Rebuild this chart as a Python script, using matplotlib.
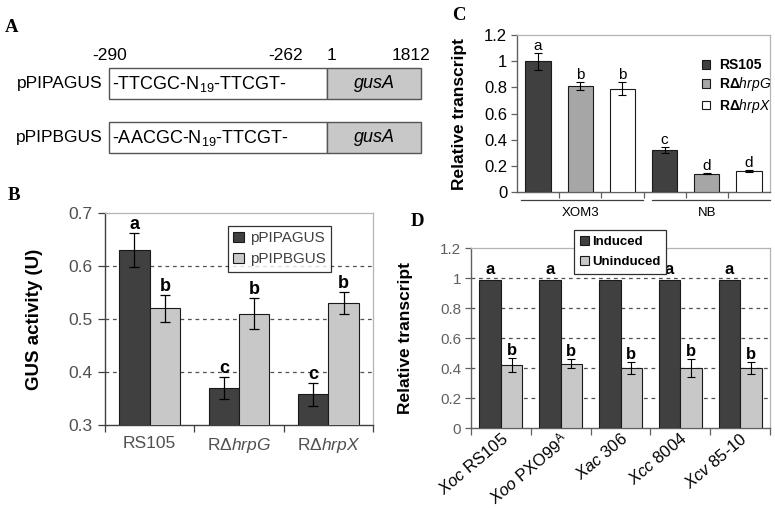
import matplotlib
matplotlib.use('Agg')
import matplotlib.pyplot as plt
import matplotlib.transforms as mtransforms
from matplotlib.patches import Rectangle
from matplotlib.lines import Line2D
import numpy as np

plt.rcParams['font.family'] = ['Liberation Sans', 'DejaVu Sans']
plt.rcParams['mathtext.fontset'] = 'custom'
plt.rcParams['mathtext.rm'] = 'Liberation Sans'
plt.rcParams['mathtext.it'] = 'Liberation Sans:italic'
plt.rcParams['mathtext.bf'] = 'Liberation Sans:bold'

# ---------------- data ----------------
# Panel A (construct diagram)
constructs = ['pPIPAGUS', 'pPIPBGUS']
promoter_seqs = ['-TTCGC-N$_{19}$-TTCGT-', '-AACGC-N$_{19}$-TTCGT-']
gene_name = 'gusA'
coord_labels = ['-290', '-262', '1', '1812']

# Panel B
strains_B = ['RS105', 'R\u0394$\\it{hrpG}$', 'R\u0394$\\it{hrpX}$']
series_B = ['pPIPAGUS', 'pPIPBGUS']
gus_pipa = [0.63, 0.37, 0.358]
gus_pipa_err = [0.032, 0.021, 0.022]
gus_pipb = [0.52, 0.51, 0.53]
gus_pipb_err = [0.025, 0.029, 0.02]
letters_pipa = ['a', 'c', 'c']
letters_pipb = ['b', 'b', 'b']
yticks_B = [0.3, 0.4, 0.5, 0.6, 0.7]

# Panel C
media_C = ['XOM3', 'NB']
strains_C = ['RS105', 'R\u0394$\\it{hrpG}$', 'R\u0394$\\it{hrpX}$']
trans_xom3 = [1.0, 0.81, 0.79]
trans_xom3_err = [0.065, 0.03, 0.047]
trans_nb = [0.32, 0.14, 0.16]
trans_nb_err = [0.025, 0.006, 0.01]
letters_xom3 = ['a', 'b', 'b']
letters_nb = ['c', 'd', 'd']
yticks_C = [0, 0.2, 0.4, 0.6, 0.8, 1.0, 1.2]

# Panel D
species_D = ['$\\it{Xoc}$ RS105', '$\\it{Xoo}$ PXO99$^{\\mathrm{A}}$',
             '$\\it{Xac}$ 306', '$\\it{Xcc}$ 8004', '$\\it{Xcv}$ 85-10']
series_D = ['Induced', 'Uninduced']
induced = [0.99, 0.99, 0.99, 0.99, 0.99]
uninduced = [0.42, 0.43, 0.40, 0.40, 0.40]
uninduced_err = [0.045, 0.03, 0.04, 0.06, 0.04]
letters_ind = ['a', 'a', 'a', 'a', 'a']
letters_unind = ['b', 'b', 'b', 'b', 'b']
yticks_D = [0, 0.2, 0.4, 0.6, 0.8, 1.0, 1.2]

# ---------------- style ----------------
W, H = 775, 508
DARK = '#404040'
LIGHT = '#c8c8c8'
MID = '#a6a6a6'
EDGE = '#1a1a1a'
FRAME = '#b4b4b4'
AXC = '#606060'


def rect(l, t, r, b):
    return [l / W, 1 - b / H, (r - l) / W, (b - t) / H]


def fmt(v):
    return f'{v:g}'


fig = plt.figure(figsize=(W / 100, H / 100), dpi=100)

# background axes in pixel coordinates (panel A + panel letters)
bg = fig.add_axes([0, 0, 1, 1])
bg.set_xlim(0, W)
bg.set_ylim(H, 0)
bg.axis('off')

serif = dict(family=['Liberation Serif', 'DejaVu Serif'], fontweight='bold', fontsize=13.5)
bg.text(12, 27, 'A', ha='center', va='center', **serif)
bg.text(14, 196, 'B', ha='center', va='center', **serif)
bg.text(459, 16, 'C', ha='center', va='center', **serif)
bg.text(417, 222, 'D', ha='center', va='center', **serif)

# Panel A diagram
x0, x1, x2 = 109, 327, 421
tops = [68, 122]
bh = 31
for name, seq, top in zip(constructs, promoter_seqs, tops):
    bg.add_patch(Rectangle((x0, top), x1 - x0, bh, facecolor='white', edgecolor='#555555', lw=1.0))
    bg.add_patch(Rectangle((x1, top), x2 - x1, bh, facecolor=LIGHT, edgecolor='#555555', lw=1.0))
    bg.text(x0 - 6, top + bh / 2, name, ha='right', va='center', fontsize=12.5)
    bg.text(x0 + 3, top + bh / 2, seq, ha='left', va='center', fontsize=13)
    bg.text((x1 + x2) / 2, top + bh / 2, gene_name, ha='center', va='center', fontsize=13, style='italic')
coord_x = [110, 286, 331, 411]
for lab, cx in zip(coord_labels, coord_x):
    bg.text(cx, 56, lab, ha='center', va='center', fontsize=12.5)

# ---------------- Panel B ----------------
axB = fig.add_axes(rect(105, 213, 373, 425))
xB = np.arange(len(strains_B))
wB = 0.34
ekw = dict(lw=0.9, capthick=0.9, ecolor='black')
axB.bar(xB - wB / 2, gus_pipa, wB, color=DARK, edgecolor=EDGE, lw=0.8,
        yerr=gus_pipa_err, capsize=3.5, error_kw=ekw, label=series_B[0], zorder=3)
axB.bar(xB + wB / 2, gus_pipb, wB, color=LIGHT, edgecolor=EDGE, lw=0.8,
        yerr=gus_pipb_err, capsize=3.5, error_kw=ekw, label=series_B[1], zorder=3)
for xi, v, e, l in zip(xB - wB / 2, gus_pipa, gus_pipa_err, letters_pipa):
    axB.annotate(l, (xi, v + e), xytext=(0, 0), textcoords='offset points',
                 ha='center', va='bottom', fontsize=13, fontweight='bold')
for xi, v, e, l in zip(xB + wB / 2, gus_pipb, gus_pipb_err, letters_pipb):
    axB.annotate(l, (xi, v + e), xytext=(0, 0), textcoords='offset points',
                 ha='center', va='bottom', fontsize=13, fontweight='bold')
axB.set_ylim(yticks_B[0], yticks_B[-1])
axB.set_xlim(-0.5, len(strains_B) - 0.5)
for v in yticks_B[1:-1]:
    axB.axhline(v, color='#505050', lw=0.9, ls=(0, (3, 3)), zorder=1)
axB.set_yticks(yticks_B)
axB.set_yticklabels([f'{v:.1f}' for v in yticks_B], fontsize=12.5, color='#505050')
axB.set_xticks(xB)
axB.set_xticklabels(strains_B, fontsize=12.5, color='#505050')
axB.tick_params(axis='x', which='major', length=0, pad=8)
axB.set_xticks(np.arange(len(strains_B) + 1) - 0.5, minor=True)
axB.tick_params(axis='x', which='minor', length=5, width=0.9, color='#404040')
axB.tick_params(axis='y', length=5, width=0.9, color='#404040', pad=4)
for s in ['left', 'bottom']:
    axB.spines[s].set_color('#404040')
    axB.spines[s].set_linewidth(1.0)
for s in ['top', 'right']:
    axB.spines[s].set_color(FRAME)
    axB.spines[s].set_linewidth(0.9)
axB.set_ylabel('GUS activity (U)', fontsize=13.5, fontweight='bold')
axB.yaxis.set_label_coords((43 - 105) / 268, 0.5)
legB = axB.legend(loc='upper left', bbox_to_anchor=((228 - 105) / 268, (425 - 226) / 212),
                  fontsize=11, frameon=True, fancybox=False, handlelength=0.7, handleheight=0.7,
                  handletextpad=0.4, borderpad=0.35, labelspacing=0.45, borderaxespad=0)
legB.get_frame().set_edgecolor('black')
legB.get_frame().set_linewidth(0.9)
for t in legB.get_texts():
    t.set_color('#404040')

# ---------------- Panel C ----------------
axC = fig.add_axes(rect(517, 35, 770, 192))
colorsC = [DARK, MID, 'white']
wC = 0.6
nS = len(strains_C)
for j in range(nS):
    xs = [j, nS + j]
    hs = [trans_xom3[j], trans_nb[j]]
    es = [trans_xom3_err[j], trans_nb_err[j]]
    axC.bar(xs, hs, wC, color=colorsC[j], edgecolor=EDGE, lw=0.8, yerr=es, capsize=3,
            error_kw=dict(lw=0.8, capthick=0.8, ecolor='black'), label=strains_C[j], zorder=3)
    for xi, v, e, l in zip(xs, hs, es, [letters_xom3[j], letters_nb[j]]):
        axC.annotate(l, (xi, v + e), xytext=(0, 0), textcoords='offset points',
                     ha='center', va='bottom', fontsize=11)
axC.set_ylim(yticks_C[0], yticks_C[-1])
axC.set_xlim(-0.5, 2 * nS - 0.5)
axC.set_yticks(yticks_C)
axC.set_yticklabels([fmt(v) for v in yticks_C], fontsize=12)
axC.tick_params(axis='y', length=4, width=0.9, color=AXC, pad=3)
axC.set_xticks([])
axC.set_xticks(np.arange(1, 2 * nS) - 0.5, minor=True)
axC.tick_params(axis='x', which='minor', length=4, width=0.9, color=AXC)
for s in ['left', 'bottom']:
    axC.spines[s].set_color(AXC)
    axC.spines[s].set_linewidth(1.0)
for s in ['top', 'right']:
    axC.spines[s].set_color(FRAME)
    axC.spines[s].set_linewidth(0.9)
axC.set_ylabel('Relative transcript', fontsize=12.5, fontweight='bold')
axC.yaxis.set_label_coords((467 - 517) / 253, 0.5)
trC = mtransforms.blended_transform_factory(axC.transData, axC.transAxes)
grp_y = (192 - 200) / 157
lab_y = (192 - 213) / 157
for g, name in enumerate(media_C):
    lo = g * nS - 0.4 + (0.1 if g else 0.0)
    hi = g * nS + nS - 0.5 - (0.01 if g == 0 else 0)
    axC.add_line(Line2D([lo, hi], [grp_y, grp_y], transform=trC, color='#404040', lw=0.9, clip_on=False))
    axC.text(g * nS + (nS - 1) / 2, lab_y, name, transform=trC, ha='center', va='center', fontsize=9.5)
legC = axC.legend(loc='upper left', bbox_to_anchor=((702 - 517) / 253, (192 - 58) / 157),
                  fontsize=10, frameon=False, handlelength=0.6, handleheight=0.6,
                  handletextpad=0.6, labelspacing=0.25, borderaxespad=0, borderpad=0)
for t in legC.get_texts():
    t.set_fontweight('bold')

# ---------------- Panel D ----------------
axD = fig.add_axes(rect(471, 248, 770, 428))
xD = np.arange(len(species_D))
wD = 0.36
axD.bar(xD - wD / 2, induced, wD, color=DARK, edgecolor=EDGE, lw=0.8, label=series_D[0], zorder=3)
axD.bar(xD + wD / 2, uninduced, wD, color=LIGHT, edgecolor=EDGE, lw=0.8, yerr=uninduced_err,
        capsize=3, error_kw=dict(lw=0.8, capthick=0.8, ecolor='black'), label=series_D[1], zorder=3)
for xi, v, l in zip(xD - wD / 2, induced, letters_ind):
    axD.annotate(l, (xi, v), xytext=(0, 2), textcoords='offset points',
                 ha='center', va='bottom', fontsize=12, fontweight='bold')
for xi, v, e, l in zip(xD + wD / 2, uninduced, uninduced_err, letters_unind):
    axD.annotate(l, (xi, v + e), xytext=(0, 0), textcoords='offset points',
                 ha='center', va='bottom', fontsize=12, fontweight='bold')
axD.set_ylim(yticks_D[0], yticks_D[-1])
axD.set_xlim(-0.5, len(species_D) - 0.5)
for v in yticks_D[1:-1]:
    axD.axhline(v, color='#505050', lw=0.9, ls=(0, (3, 3)), zorder=1)
axD.set_yticks(yticks_D)
axD.set_yticklabels([fmt(v) for v in yticks_D], fontsize=11, color='#606060')
axD.tick_params(axis='y', length=4, width=0.9, color=AXC, pad=3)
axD.set_xticks(xD)
axD.set_xticklabels(species_D, fontsize=12, rotation=40, ha='right', va='center',
                    rotation_mode='anchor')
axD.tick_params(axis='x', which='major', length=0, pad=6)
offs = mtransforms.ScaledTranslation(0.05, 0, fig.dpi_scale_trans)
for lbl in axD.get_xticklabels():
    lbl.set_transform(lbl.get_transform() + offs)
axD.set_xticks(np.arange(len(species_D) + 1) - 0.5, minor=True)
axD.tick_params(axis='x', which='minor', length=5, width=0.9, color=AXC)
for s in ['left', 'bottom']:
    axD.spines[s].set_color(AXC)
    axD.spines[s].set_linewidth(1.0)
for s in ['top', 'right']:
    axD.spines[s].set_color(FRAME)
    axD.spines[s].set_linewidth(0.9)
axD.set_ylabel('Relative transcript', fontsize=12.5, fontweight='bold')
axD.yaxis.set_label_coords((413 - 471) / 299, 0.5)
legD = axD.legend(loc='upper left', bbox_to_anchor=((574 - 471) / 299, (428 - 230) / 180),
                  fontsize=9.5, frameon=True, fancybox=False, handlelength=0.7, handleheight=0.7,
                  handletextpad=0.2, borderpad=0.45, labelspacing=0.6, borderaxespad=0)
legD.get_frame().set_edgecolor('#303030')
legD.get_frame().set_linewidth(0.9)
legD.get_frame().set_alpha(1)
for t in legD.get_texts():
    t.set_fontweight('bold')
legD.set_zorder(10)

fig.savefig('out.png', dpi=100)
